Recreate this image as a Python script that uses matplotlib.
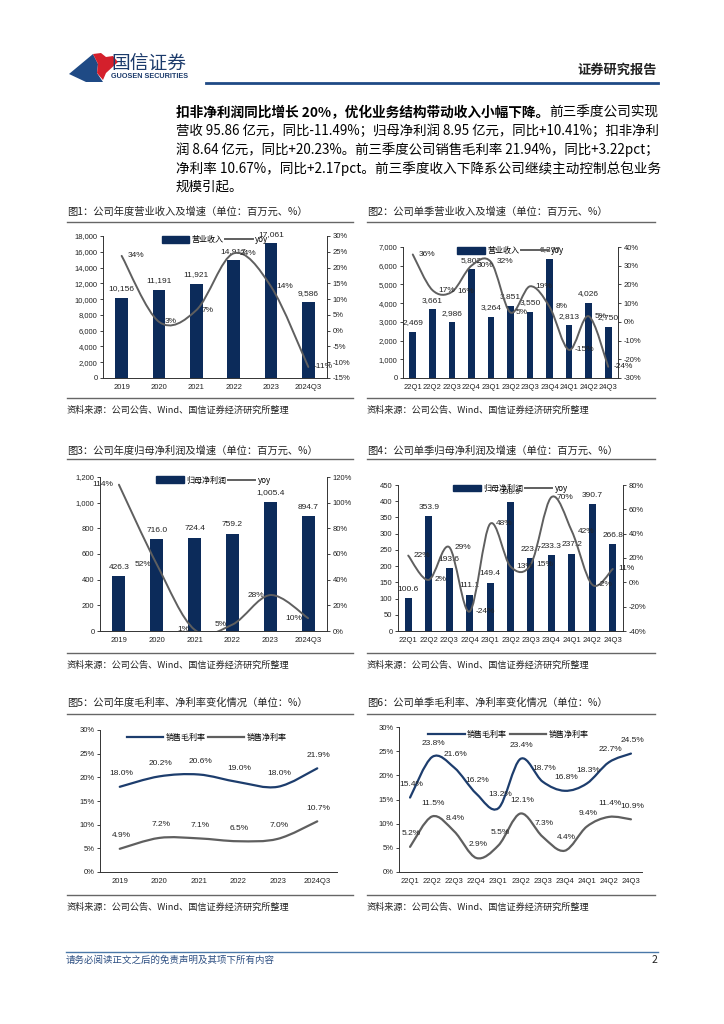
import numpy as np
import matplotlib
matplotlib.use('Agg')
import matplotlib.pyplot as plt
from matplotlib.path import Path
from matplotlib.patches import PathPatch, Polygon, Patch
from matplotlib.lines import Line2D

plt.rcParams['font.family'] = ['Noto Sans CJK SC', 'DejaVu Sans']

# ---- data ----
years = ['2019', '2020', '2021', '2022', '2023', '2024Q3']
quarters = ['22Q1', '22Q2', '22Q3', '22Q4', '23Q1', '23Q2', '23Q3', '23Q4', '24Q1', '24Q2', '24Q3']

rev_year = [10156, 11191, 11921, 14917, 17061, 9586]
rev_year_yoy = [23.7, 2.8, 6.5, 24.5, 14.0, -11.5]
rev_year_yoy_lab = ['34%', '3%', '7%', '24%', '14%', '-11%']

rev_q = [2469, 3661, 2986, 5802, 3264, 3851, 3550, 6377, 2813, 4026, 2750]
rev_q_yoy = [36, 17, 16, 30, 32, 5, 19, 8, -15, 3, -24]
rev_q_yoy_lab = ['36%', '17%', '16%', '30%', '32%', '5%', '19%', '8%', '-15%', '5%', '-24%']

np_year = [426.3, 716.0, 724.4, 759.2, 1005.4, 894.7]
np_year_yoy = [114, 52, 1, 5, 28, 10]

np_q = [100.6, 353.9, 193.6, 111.1, 149.4, 398.9, 223.7, 233.3, 237.2, 390.7, 266.8]
np_q_yoy = [22, 2, 29, -24, 48, 13, 15, 70, 42, -2, 11]

gm_year = [18.0, 20.2, 20.6, 19.0, 18.0, 21.9]
nm_year = [4.9, 7.2, 7.1, 6.5, 7.0, 10.7]
gm_q = [15.4, 23.8, 21.6, 16.2, 13.2, 23.4, 18.7, 16.8, 18.3, 22.7, 24.5]
nm_q = [5.2, 11.5, 8.4, 2.9, 5.5, 12.1, 7.3, 4.4, 9.4, 11.4, 10.9]

titles = ['图1：公司年度营业收入及增速（单位：百万元、%）',
          '图2：公司单季营业收入及增速（单位：百万元、%）',
          '图3：公司年度归母净利润及增速（单位：百万元、%）',
          '图4：公司单季归母净利润及增速（单位：百万元、%）',
          '图5：公司年度毛利率、净利率变化情况（单位：%）',
          '图6：公司单季毛利率、净利率变化情况（单位：%）']
source = '资料来源：公司公告、Wind、国信证券经济研究所整理'

body_bold = '扣非净利润同比增长 20%，优化业务结构带动收入小幅下降。'
body_lines = ['前三季度公司实现',
              '营收 95.86 亿元，同比-11.49%；归母净利润 8.95 亿元，同比+10.41%；扣非净利',
              '润 8.64 亿元，同比+20.23%。前三季度公司销售毛利率 21.94%，同比+3.22pct；',
              '净利率 10.67%，同比+2.17pct。前三季度收入下降系公司继续主动控制总包业务',
              '规模引起。']

NAVY = '#0c2b5a'
LINE_NAVY = '#1d3d6d'
GRAY = '#5f5f5f'
TXT = '#222222'
NUMFONT = ['Liberation Sans', 'Noto Sans CJK SC']

W, H = 724, 1024
fig = plt.figure(figsize=(7.24, 10.24), dpi=100)
bg = fig.add_axes([0, 0, 1, 1])
bg.set_xlim(0, W)
bg.set_ylim(H, 0)
bg.axis('off')


def px_axes(x0, y0, x1, y1):
    return fig.add_axes([x0 / W, 1 - y1 / H, (x1 - x0) / W, (y1 - y0) / H])


def smooth(ax, x, y, **kw):
    # catmull-rom style smoothing drawn as bezier path
    pts = np.column_stack([x, y]).astype(float)
    ext = np.vstack([pts[0], pts, pts[-1]])
    verts = [pts[0]]
    codes = [Path.MOVETO]
    for i in range(len(pts) - 1):
        p0, p1, p2, p3 = ext[i], ext[i + 1], ext[i + 2], ext[i + 3]
        verts += [p1 + (p2 - p0) / 6, p2 - (p3 - p1) / 6, p2]
        codes += [Path.CURVE4] * 3
    ax.add_patch(PathPatch(Path(verts, codes), fill=False, capstyle='round', **kw))


def style(ax, right=False):
    ax.spines['top'].set_visible(False)
    if not right:
        ax.spines['right'].set_visible(False)
    for s in ax.spines.values():
        s.set_linewidth(0.7)
        s.set_color('#333333')
    ax.tick_params(axis='both', labelsize=5.5, length=2, width=0.6, colors=TXT, pad=2)
    ax.tick_params(axis='x', length=0, pad=4)
    for lab in ax.get_xticklabels() + ax.get_yticklabels():
        lab.set_family(NUMFONT)


def frame(col_x0, col_x1, title_y, line_y, bottom_y, title):
    bg.text(col_x0, title_y, title, fontsize=7.4, va='center', ha='left', color=TXT)
    bg.plot([col_x0, col_x1], [line_y, line_y], color='#666666', lw=1.0)
    bg.plot([col_x0, col_x1], [bottom_y, bottom_y], color='#666666', lw=1.0)
    bg.text(col_x0, bottom_y + 12, source, fontsize=6.6, va='center', ha='left', color=TXT)


def bar_line(box, cats, bars, bar_labs, yoy, yoy_labs, ylim, ystep, yfmt,
             ylim2, ystep2, name, side='right'):
    ax = px_axes(*box)
    x = np.arange(len(cats))
    ax.bar(x, bars, width=0.34, color=NAVY, zorder=2)
    ax.set_xlim(-0.5, len(cats) - 0.5)
    ax.set_ylim(*ylim)
    yt = np.arange(ylim[0], ylim[1] + ystep / 2, ystep)
    ax.set_yticks(yt)
    ax.set_yticklabels([yfmt(v) for v in yt])
    ax.set_xticks(x)
    ax.set_xticklabels(cats)
    style(ax)
    for xi, v, s in zip(x, bars, bar_labs):
        ax.annotate(s, (xi, v), xytext=(0, 4), textcoords='offset points',
                    ha='center', va='bottom', fontsize=6, color=TXT, family=NUMFONT, zorder=5)
    ax2 = ax.twinx()
    smooth(ax2, x, yoy, color=GRAY, lw=1.4, zorder=3)
    ax2.set_ylim(*ylim2)
    yt2 = np.arange(ylim2[0], ylim2[1] + ystep2 / 2, ystep2)
    ax2.set_yticks(yt2)
    ax2.set_yticklabels([f'{v:.0f}%' for v in yt2])
    style(ax2, right=True)
    ax2.spines['left'].set_visible(False)
    ax2.spines['bottom'].set_visible(False)
    dx = 4 if side == 'right' else -4
    for xi, v, s in zip(x, yoy, yoy_labs):
        ax2.annotate(s, (xi, v), xytext=(dx, 0), textcoords='offset points',
                     ha='left' if side == 'right' else 'right', va='center',
                     fontsize=6, color=TXT, family=NUMFONT, zorder=5)
    handles = [Patch(color=NAVY), Line2D([], [], color=GRAY, lw=1.4)]
    ax2.legend(handles, [name, 'yoy'], loc='upper center', bbox_to_anchor=(0.5, 1.03),
               ncol=2, frameon=False, fontsize=5.8, handlelength=3.4, handleheight=0.9,
               columnspacing=0.2, handletextpad=0.3, borderaxespad=0)
    return ax, ax2


def margin(box, cats, gm, nm):
    ax = px_axes(*box)
    x = np.arange(len(cats))
    smooth(ax, x, gm, color=LINE_NAVY, lw=1.6, zorder=3)
    smooth(ax, x, nm, color=GRAY, lw=1.6, zorder=3)
    ax.set_xlim(-0.5, len(cats) - 0.5)
    ax.set_ylim(0, 30)
    ax.set_yticks(range(0, 31, 5))
    ax.set_yticklabels([f'{v}%' for v in range(0, 31, 5)])
    ax.set_xticks(x)
    ax.set_xticklabels(cats)
    style(ax)
    for series in (gm, nm):
        for xi, v in zip(x, series):
            ax.annotate(f'{v:.1f}%', (xi, v), xytext=(1, 7), textcoords='offset points',
                        ha='center', va='bottom', fontsize=6, color=TXT, family=NUMFONT)
    handles = [Line2D([], [], color=LINE_NAVY, lw=1.6), Line2D([], [], color=GRAY, lw=1.6)]
    ax.legend(handles, ['销售毛利率', '销售净利率'], loc='upper center',
              bbox_to_anchor=(0.45, 1.0), ncol=2, frameon=False, fontsize=5.8,
              handlelength=4.5, columnspacing=0.3, handletextpad=0.3, borderaxespad=0)
    return ax


# ---- header ----
bg.add_patch(Polygon([(69, 74), (93, 54), (98, 64), (97, 73), (103, 82), (86, 82)],
                     closed=True, color='#1f4a85', lw=0))
bg.add_patch(Polygon([(93, 54), (101, 53), (106, 57), (113, 56), (118, 62), (106, 73),
                      (103, 80), (97, 73), (98, 64)],
                     closed=True, color='#d4202c', lw=0))
bg.text(111, 63, '国信证券', fontsize=13.5, color='#1b3a6b', va='center', ha='left')
bg.text(111, 77, 'GUOSEN SECURITIES', fontsize=5.2, color='#1b3a6b', va='center', ha='left',
        family=NUMFONT, weight='bold')
bg.text(657, 70, '证券研究报告', fontsize=9.5, color=TXT, va='center', ha='right', weight='bold')
bg.plot([206, 658], [83, 83], color='#1f4a85', lw=2.0)

# ---- body text (each full line stretched to the column width) ----
TX0, TX1 = 176, 660
y0, dy = 113, 18.5
fig.canvas.draw()
rend = fig.canvas.get_renderer()


def width_px(artists):
    return sum(a.get_window_extent(rend).width for a in artists)


t_b = bg.text(TX0, y0, body_bold, fontsize=10, weight='bold', va='center', ha='left', color='black')
t_n = bg.text(TX0, y0, body_lines[0], fontsize=10, va='center', ha='left', color='black')
k = (TX1 - TX0) / width_px([t_b, t_n])
t_b.set_fontsize(10 * k)
t_n.set_fontsize(10 * k)
t_n.set_x(TX0 + t_b.get_window_extent(rend).width)
sizes = [10 * k]
for i, line in enumerate(body_lines[1:], start=1):
    t = bg.text(TX0, y0 + i * dy, line, fontsize=10, va='center', ha='left', color='black')
    if i < len(body_lines) - 1:
        k = (TX1 - TX0) / width_px([t])
        t.set_fontsize(10 * k)
        sizes.append(10 * k)
    else:
        t.set_fontsize(np.mean(sizes))

# ---- frames ----
L0, L1, R0, R1 = 67, 353, 367, 655
frame(L0, L1, 212, 222, 398, titles[0])
frame(R0, R1, 212, 222, 398, titles[1])
frame(L0, L1, 451, 459, 653, titles[2])
frame(R0, R1, 451, 459, 653, titles[3])
frame(L0, L1, 703, 714, 895, titles[4])
frame(R0, R1, 703, 714, 895, titles[5])

# ---- charts ----
bar_line((103, 236, 327, 378), years, rev_year, [f'{v:,}' for v in rev_year],
         rev_year_yoy, rev_year_yoy_lab, (0, 18000), 2000, lambda v: f'{v:,.0f}',
         (-15, 30), 5, '营业收入')
bar_line((403, 247, 618, 378), quarters, rev_q, [f'{v:,}' for v in rev_q],
         rev_q_yoy, rev_q_yoy_lab, (0, 7000), 1000, lambda v: f'{v:,.0f}',
         (-30, 40), 10, '营业收入')
bar_line((100, 477, 327, 631), years, np_year, [f'{v:,.1f}' for v in np_year],
         np_year_yoy, [f'{v}%' for v in np_year_yoy], (0, 1200), 200, lambda v: f'{v:,.0f}',
         (0, 120), 20, '归母净利润', side='left')
bar_line((398, 485, 623, 631), quarters, np_q, [f'{v:.1f}' for v in np_q],
         np_q_yoy, [f'{v}%' for v in np_q_yoy], (0, 450), 50, lambda v: f'{v:.0f}',
         (-40, 80), 20, '归母净利润')
margin((100, 730, 337, 872), years, gm_year, nm_year)
margin((399, 727, 642, 872), quarters, gm_q, nm_q)

# ---- footer ----
bg.plot([66, 658], [952, 952], color='#4a78a8', lw=1.0)
bg.text(66, 960, '请务必阅读正文之后的免责声明及其项下所有内容', fontsize=6.8, style='italic',
        color='#2d4f82', va='center', ha='left')
bg.text(657, 960, '2', fontsize=7.5, color=TXT, va='center', ha='right')

fig.savefig('out.png', dpi=100)
